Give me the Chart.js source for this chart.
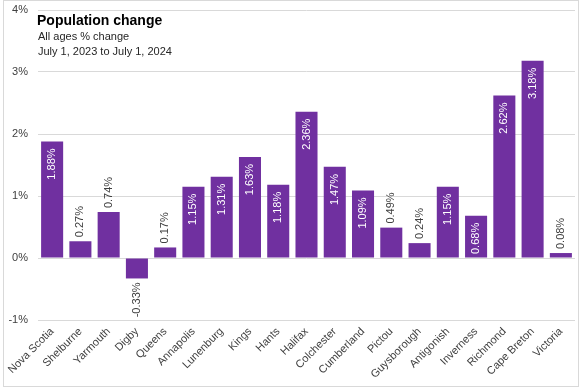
<!DOCTYPE html>
<html>
<head>
<meta charset="utf-8">
<script src="https://cdn.jsdelivr.net/npm/chart.js@4/dist/chart.umd.min.js"></script>
<style>
html,body{margin:0;padding:0;background:#fff;}
#wrap{width:583px;height:390px;position:relative;}
</style>
</head>
<body>
<div id="wrap"><canvas id="c" width="583" height="390"></canvas></div>
<script>
const categories = ["Nova Scotia","Shelburne","Yarmouth","Digby","Queens","Annapolis","Lunenburg","Kings","Hants","Halifax","Colchester","Cumberland","Pictou","Guysborough","Antigonish","Inverness","Richmond","Cape Breton","Victoria"];
const changePct = [1.88,0.27,0.74,-0.33,0.17,1.15,1.31,1.63,1.18,2.36,1.47,1.09,0.49,0.24,1.15,0.68,2.62,3.18,0.08];
const yTicks = [-1,0,1,2,3,4];
const titleText = "Population change";
const subtitleLines = ["All ages % change","July 1, 2023 to July 1, 2024"];

const FONT = "'Liberation Sans', Arial, sans-serif";
const outsideLabels = new Set(["Shelburne","Yarmouth","Digby","Queens","Pictou","Guysborough","Victoria"]);

const decor = {
  id: 'decor',
  afterDatasetsDraw(chart) {
    const ctx = chart.ctx;
    const meta = chart.getDatasetMeta(0);
    ctx.save();
    ctx.font = "11px " + FONT;
    ctx.textBaseline = 'middle';
    meta.data.forEach((bar, i) => {
      const v = changePct[i];
      const label = v.toFixed(2) + '%';
      const props = bar.getProps(['x','y','base'], true);
      ctx.save();
      if (outsideLabels.has(categories[i])) {
        ctx.fillStyle = '#404040';
        if (v >= 0) {
          ctx.translate(props.x, props.y - 4);
          ctx.rotate(-Math.PI/2);
          ctx.textAlign = 'left';
        } else {
          ctx.translate(props.x, props.y + 4);
          ctx.rotate(-Math.PI/2);
          ctx.textAlign = 'right';
        }
      } else {
        ctx.fillStyle = '#ffffff';
        ctx.translate(props.x, props.y + 7);
        ctx.rotate(-Math.PI/2);
        ctx.textAlign = 'right';
      }
      ctx.fillText(label, 0, 0);
      ctx.restore();
    });
    ctx.restore();
  },
  afterDraw(chart) {
    const ctx = chart.ctx;
    ctx.save();
    ctx.strokeStyle = '#d9d9d9';
    ctx.lineWidth = 1;
    ctx.strokeRect(3.5, 0.5, 575, 386);
    ctx.textAlign = 'left';
    ctx.textBaseline = 'alphabetic';
    ctx.fillStyle = '#000000';
    ctx.font = "bold 14px " + FONT;
    ctx.fillText(titleText, 37, 25);
    ctx.font = "11px " + FONT;
    ctx.fillStyle = '#262626';
    ctx.fillText(subtitleLines[0], 38, 40);
    ctx.fillText(subtitleLines[1], 38, 55);
    ctx.restore();
  }
};

new Chart(document.getElementById('c'), {
  type: 'bar',
  data: {
    labels: categories,
    datasets: [{
      data: changePct,
      backgroundColor: '#7030A0',
      borderWidth: 0,
      categoryPercentage: 1.0,
      barPercentage: 0.78
    }]
  },
  options: {
    responsive: false,
    animation: false,
    devicePixelRatio: 1,
    layout: { padding: { top: 10, left: 5, right: 8, bottom: 4 } },
    plugins: { legend: { display: false }, tooltip: { enabled: false }, title: { display: false } },
    scales: {
      x: {
        grid: { display: false, drawTicks: false },
        border: { display: false },
        ticks: {
          color: '#404040',
          font: { family: FONT, size: 11 },
          maxRotation: 45, minRotation: 45,
          autoSkip: false,
          padding: 5
        },
        afterFit(scale) { scale.height = 66; scale.paddingLeft = 0; scale.paddingRight = 0; }
      },
      y: {
        min: -1, max: 4,
        afterBuildTicks(scale) { scale.ticks = yTicks.map(v => ({ value: v })); },
        grid: { color: '#d9d9d9', drawTicks: false, lineWidth: 1 },
        border: { display: false },
        ticks: {
          color: '#404040',
          font: { family: FONT, size: 11 },
          padding: 10,
          callback: v => v + '%'
        },
        afterFit(scale) { scale.width = 33; scale.paddingTop = 0; scale.paddingBottom = 0; }
      }
    }
  },
  plugins: [decor]
});
</script>
</body>
</html>
